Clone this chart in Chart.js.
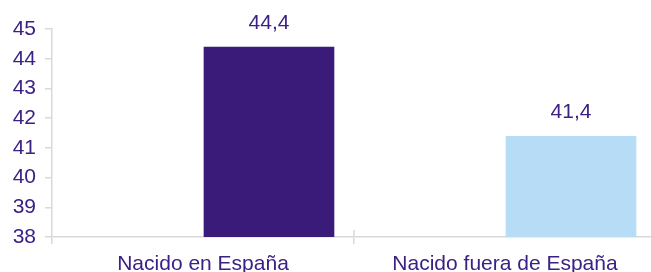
<!DOCTYPE html>
<html lang="es">
<head>
<meta charset="UTF-8">
<title>Edad media</title>
<script src="https://cdn.jsdelivr.net/npm/chart.js"></script>
<style>
  html, body { margin: 0; padding: 0; overflow: hidden; background: #fff; }
  .chart_area { width: 660px; height: 280px; }
</style>
</head>
<body>
<div class="chart_area">
  <canvas id="edadChart" width="660" height="280"></canvas>
</div>

<script>
// datos
const categorias = ['Nacido en España', 'Nacido fuera de España'];
const vacio = [null, null]; // serie vacia (ocupa el primer hueco de cada grupo)
const edadMedia = [44.4, 41.4];
const ejeYMin = 38;
const ejeYMax = 45;

const colorTexto = '#3b2184';
const colorGris = '#d9d9d9';
const coloresBarras = ['#3b1b7a', '#b6ddf5'];
const fuente = { family: "'Liberation Sans', Arial, sans-serif", size: 21 };

// etiquetas con el valor encima de cada barra + marcas en cruz del eje X
const etiquetasValor = {
  id: 'etiquetasValor',
  afterDatasetsDraw(chart) {
    const ctx = chart.ctx;
    const meta = chart.getDatasetMeta(1);
    ctx.save();
    ctx.font = `${fuente.size}px ${fuente.family}`;
    ctx.fillStyle = colorTexto;
    ctx.textAlign = 'center';
    ctx.textBaseline = 'alphabetic';
    meta.data.forEach((bar, i) => {
      const v = edadMedia[i];
      if (v == null) return;
      ctx.fillText(v.toFixed(1).replace('.', ','), bar.x, bar.y - 18);
    });

    // parte interior de las marcas entre categorias
    const x = chart.scales.x;
    ctx.strokeStyle = colorGris;
    ctx.lineWidth = 1.5;
    for (let i = 0; i < categorias.length - 1; i++) {
      const px = (x.getPixelForValue(i) + x.getPixelForValue(i + 1)) / 2;
      ctx.beginPath();
      ctx.moveTo(px, x.top - 7);
      ctx.lineTo(px, x.top);
      ctx.stroke();
    }
    ctx.restore();
  }
};

const ctx = document.getElementById('edadChart').getContext('2d');
const edadChart = new Chart(ctx, {
  type: 'bar',
  data: {
    labels: categorias,
    datasets: [
      { label: '', data: vacio, backgroundColor: 'rgba(0,0,0,0)' },
      { label: 'Edad media', data: edadMedia, backgroundColor: coloresBarras, borderWidth: 0 }
    ]
  },
  options: {
    responsive: false,
    animation: false,
    devicePixelRatio: 1,
    categoryPercentage: 0.874,
    barPercentage: 0.99,
    layout: { padding: { top: 29, right: 4, left: 0, bottom: 0 } },
    plugins: {
      legend: { display: false },
      tooltip: { enabled: false }
    },
    scales: {
      x: {
        afterFit(scale) { scale.height = 43; },
        grid: {
          drawOnChartArea: false,
          color: colorGris,
          lineWidth: 1.5,
          tickLength: 7
        },
        border: { color: colorGris, width: 1.5 },
        ticks: { color: colorTexto, font: fuente, padding: 8, maxRotation: 0, autoSkip: false }
      },
      y: {
        min: ejeYMin,
        max: ejeYMax,
        afterFit(scale) { scale.width = 52; },
        grid: {
          drawOnChartArea: false,
          color: colorGris,
          lineWidth: 1.5,
          tickLength: 7
        },
        border: { color: colorGris, width: 1.5 },
        ticks: { stepSize: 1, color: colorTexto, font: fuente, padding: 9 }
      }
    }
  },
  plugins: [etiquetasValor]
});
</script>
</body>
</html>
